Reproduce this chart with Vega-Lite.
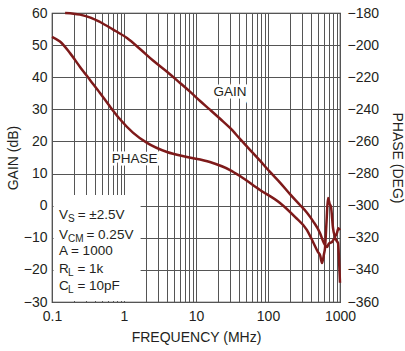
{
  "$schema": "https://vega.github.io/schema/vega-lite/v6.json",
  "width": 288,
  "height": 289,
  "autosize": {"type": "none"},
  "padding": {"left": 52, "top": 13, "right": 65, "bottom": 49},
  "background": "white",
  "datasets": {
    "gain": [
      {"f": 0.152, "gain": 60.0},
      {"f": 0.2, "gain": 59.8},
      {"f": 0.245, "gain": 59.5},
      {"f": 0.35, "gain": 58.5},
      {"f": 0.464, "gain": 57.2},
      {"f": 0.7, "gain": 54.9},
      {"f": 1.1, "gain": 52.2},
      {"f": 1.67, "gain": 48.8},
      {"f": 2.53, "gain": 45.2},
      {"f": 3.96, "gain": 41.7},
      {"f": 6.0, "gain": 38.2},
      {"f": 8.25, "gain": 35.5},
      {"f": 11.4, "gain": 32.6},
      {"f": 15.6, "gain": 29.9},
      {"f": 22, "gain": 26.9},
      {"f": 29.7, "gain": 24.2},
      {"f": 40.8, "gain": 20.8},
      {"f": 56.2, "gain": 17.4},
      {"f": 77.4, "gain": 14.0},
      {"f": 106.6, "gain": 10.5},
      {"f": 146.8, "gain": 7.2},
      {"f": 202, "gain": 3.6},
      {"f": 278, "gain": 0.2},
      {"f": 348, "gain": -2.2},
      {"f": 422, "gain": -4.8},
      {"f": 527, "gain": -8.5},
      {"f": 581, "gain": -11.0},
      {"f": 620, "gain": -12.3},
      {"f": 660, "gain": -12.9},
      {"f": 700, "gain": -11.8},
      {"f": 774, "gain": -11.3},
      {"f": 852, "gain": -10.1},
      {"f": 900, "gain": -11.0},
      {"f": 938, "gain": -11.6},
      {"f": 970, "gain": -17.0},
      {"f": 1000, "gain": -24.0}
    ],
    "phase": [
      {"f": 0.1, "phase": -194.8},
      {"f": 0.129, "phase": -197.8},
      {"f": 0.178, "phase": -205.0},
      {"f": 0.245, "phase": -213.6},
      {"f": 0.337, "phase": -221.7},
      {"f": 0.464, "phase": -229.8},
      {"f": 0.639, "phase": -238.3},
      {"f": 0.88, "phase": -246.2},
      {"f": 1.33, "phase": -254.5},
      {"f": 2.09, "phase": -260.9},
      {"f": 3.96, "phase": -266.6},
      {"f": 7.5, "phase": -269.7},
      {"f": 15.6, "phase": -272.8},
      {"f": 29.7, "phase": -277.8},
      {"f": 40.8, "phase": -281.5},
      {"f": 77.4, "phase": -290.2},
      {"f": 146.8, "phase": -298.3},
      {"f": 237, "phase": -307.0},
      {"f": 348, "phase": -315.2},
      {"f": 422, "phase": -322.6},
      {"f": 495, "phase": -328.9},
      {"f": 530, "phase": -331.0},
      {"f": 562, "phase": -335.7},
      {"f": 600, "phase": -330.0},
      {"f": 619, "phase": -326.4},
      {"f": 650, "phase": -310.0},
      {"f": 681, "phase": -295.2},
      {"f": 720, "phase": -299.0},
      {"f": 750, "phase": -300.8},
      {"f": 800, "phase": -313.9},
      {"f": 850, "phase": -319.0},
      {"f": 908, "phase": -317.0},
      {"f": 950, "phase": -314.0},
      {"f": 1000, "phase": -315.2}
    ],
    "labels": [
      {"label": "GAIN", "f": 29.7, "db": 35.4},
      {"label": "PHASE", "f": 1.4, "db": 14.4}
    ],
    "notes": [
      {"id": "vs", "base": "V", "sub": "S", "rest": "= ±2.5V", "f": 0.125, "db": -2.8},
      {"id": "vcm", "base": "V", "sub": "CM", "rest": "= 0.25V", "f": 0.125, "db": -9.0},
      {"id": "a", "base": "A = 1000", "sub": "", "rest": "", "f": 0.125, "db": -14.1},
      {"id": "rl", "base": "R", "sub": "L", "rest": "= 1k", "f": 0.125, "db": -19.7},
      {"id": "cl", "base": "C", "sub": "L", "rest": "= 10pF", "f": 0.125, "db": -25.0}
    ]
  },
  "layer": [
    {
      "layer": [
        {
          "data": {"values": [{}]},
          "mark": {"type": "rect", "fill": "white", "stroke": null},
          "encoding": {
            "x": {
              "datum": 0.105, "type": "quantitative",
              "scale": {"type": "log", "domain": [0.1, 1000], "nice": false},
              "axis": {
                "values": [0.1,0.2,0.3,0.4,0.5,0.6,0.7,0.8,0.9,1,2,3,4,5,6,7,8,9,10,20,30,40,50,60,70,80,90,100,200,300,400,500,600,700,800,900,1000],
                "tickCount": 100,
                "format": "~g",
                "labelExpr": "indexof([0.1,1,10,100,1000], datum.value) >= 0 ? datum.label : ''",
                "title": "FREQUENCY (MHz)",
                "grid": true,
                "labelFlush": false,
                "labelOverlap": false,
                "labelPadding": 7,
                "titlePadding": 7
              }
            },
            "x2": {"datum": 1.7},
            "y": {
              "datum": -29.7, "type": "quantitative",
              "scale": {"domain": [-30, 60], "nice": false, "zero": false},
              "axis": {
                "values": [-30,-20,-10,0,10,20,30,40,50,60],
                "tickCount": 20,
                "title": "GAIN (dB)",
                "grid": true,
                "labelOverlap": false,
                "labelFlush": false,
                "labelBound": false,
                "labelPadding": 5,
                "titlePadding": 3,
                "labelExpr": "replace(datum.label, '-', '−')"
              }
            },
            "y2": {"datum": 3.3}
          }
        },
        {
          "data": {"name": "gain"},
          "mark": {"type": "line", "color": "#7e1a1a", "strokeWidth": 2.5, "interpolate": "monotone"},
          "encoding": {
            "x": {"field": "f", "type": "quantitative"},
            "y": {"field": "gain", "type": "quantitative"}
          }
        },
        {
          "data": {"name": "labels"},
          "mark": {"type": "text", "fontSize": 13.5, "stroke": "white", "strokeWidth": 5, "color": "white", "baseline": "middle", "align": "center"},
          "encoding": {
            "x": {"field": "f", "type": "quantitative"},
            "y": {"field": "db", "type": "quantitative"},
            "text": {"field": "label"}
          }
        },
        {
          "data": {"name": "labels"},
          "mark": {"type": "text", "fontSize": 13.5, "color": "#231f20", "baseline": "middle", "align": "center"},
          "encoding": {
            "x": {"field": "f", "type": "quantitative"},
            "y": {"field": "db", "type": "quantitative"},
            "text": {"field": "label"}
          }
        },
        {
          "data": {"name": "notes"},
          "mark": {"type": "text", "fontSize": 13.5, "color": "#231f20", "baseline": "middle", "align": "left"},
          "encoding": {
            "x": {"field": "f", "type": "quantitative"},
            "y": {"field": "db", "type": "quantitative"},
            "text": {"field": "base"}
          }
        },
        {
          "data": {"name": "notes"},
          "transform": [{"filter": "datum.sub != ''"}],
          "mark": {"type": "text", "fontSize": 10, "color": "#231f20", "baseline": "middle", "align": "left", "dx": 9, "dy": 4},
          "encoding": {
            "x": {"field": "f", "type": "quantitative"},
            "y": {"field": "db", "type": "quantitative"},
            "text": {"field": "sub"}
          }
        },
        {
          "data": {"name": "notes"},
          "transform": [{"filter": "datum.id == 'vs'"}],
          "mark": {"type": "text", "fontSize": 13.5, "color": "#231f20", "baseline": "middle", "align": "left", "dx": 18.7},
          "encoding": {
            "x": {"field": "f", "type": "quantitative"},
            "y": {"field": "db", "type": "quantitative"},
            "text": {"field": "rest"}
          }
        },
        {
          "data": {"name": "notes"},
          "transform": [{"filter": "datum.id == 'vcm'"}],
          "mark": {"type": "text", "fontSize": 13.5, "color": "#231f20", "baseline": "middle", "align": "left", "dx": 27.5},
          "encoding": {
            "x": {"field": "f", "type": "quantitative"},
            "y": {"field": "db", "type": "quantitative"},
            "text": {"field": "rest"}
          }
        },
        {
          "data": {"name": "notes"},
          "transform": [{"filter": "datum.id == 'rl' || datum.id == 'cl'"}],
          "mark": {"type": "text", "fontSize": 13.5, "color": "#231f20", "baseline": "middle", "align": "left", "dx": 18.4},
          "encoding": {
            "x": {"field": "f", "type": "quantitative"},
            "y": {"field": "db", "type": "quantitative"},
            "text": {"field": "rest"}
          }
        }
      ]
    },
    {
      "data": {"name": "phase"},
      "mark": {"type": "line", "color": "#7e1a1a", "strokeWidth": 2.5, "interpolate": "monotone"},
      "encoding": {
        "x": {"field": "f", "type": "quantitative"},
        "y": {
          "field": "phase", "type": "quantitative",
          "scale": {"domain": [-360, -180], "nice": false, "zero": false},
          "axis": {
            "orient": "right",
            "values": [-360,-340,-320,-300,-280,-260,-240,-220,-200,-180],
            "tickCount": 20,
            "title": "PHASE (DEG)",
            "grid": false,
            "labelOverlap": false,
            "labelFlush": false,
            "labelBound": false,
            "labelPadding": 7,
            "titlePadding": 11,
            "labelExpr": "replace(datum.label, '-', '−')"
          }
        }
      }
    }
  ],
  "resolve": {"scale": {"y": "independent"}},
  "config": {
    "font": "Liberation Sans",
    "view": {"stroke": "#2a2a2a", "strokeWidth": 1.2},
    "axis": {
      "labelFontSize": 14,
      "labelColor": "#231f20",
      "titleFontSize": 14,
      "titleFontWeight": "normal",
      "titleColor": "#231f20",
      "ticks": false,
      "domain": false,
      "labelOverlap": false,
      "gridColor": "#555555",
      "gridWidth": 1,
      "gridOpacity": 1
    }
  }
}
